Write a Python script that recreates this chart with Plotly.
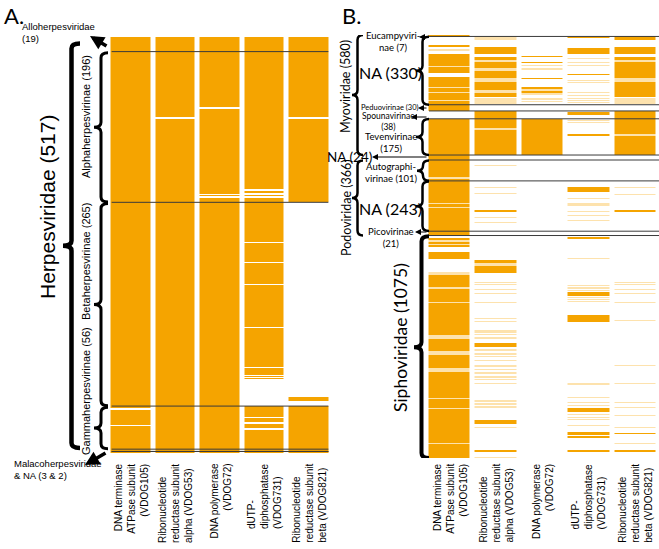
import numpy as np
import plotly.graph_objects as go

W, H = 659, 549

# ---------------- data ----------------
vdog_labels = [
    "DNA terminase<br>ATPase subunit<br>(VDOG105)",
    "Ribonucleotide<br>reductase subunit<br>alpha (VDOG53)",
    "DNA polymerase<br>(VDOG72)",
    "dUTP-<br>diphosphatase<br>(VDOG731)",
    "Ribonucleotide<br>reductase subunit<br>beta (VDOG821)",
]
label_align = ["right", "left", "right", "left", "left"]

# Panel A: herpesvirus genomes (rows), groups in order
A_groups = ["Alloherpesviridae", "Alphaherpesvirinae", "Betaherpesvirinae",
            "Gammaherpesvirinae", "Malacoherpesviridae", "NA"]
A_sizes = [19, 196, 265, 56, 3, 2]
# presence intervals (genome row start, end) for each VDOG
A_vdog105 = [(0, 483), (485, 504), (506, 541)]
A_vdog53 = [(0, 104), (106, 541)]
A_vdog72 = [(0, 91), (93, 204), (206, 207), (209, 541)]
A_vdog731 = [(0, 198), (200, 203), (205, 207), (209, 266), (268, 292), (294, 321),
             (323, 377), (379, 429), (431, 439), (441, 442), (444, 445),
             (480, 494), (496, 501), (503, 509), (511, 541)]
A_vdog821 = [(0, 104), (106, 215), (468, 473), (480, 541)]

# Panel B: phage genomes; (start, end, level) level 3 = dense, 2 = mixed, 1 = sparse
B_groups = ["Eucampyvirinae", "NA", "Peduovirinae", "Spounavirinae", "Tevenvirinae",
            "NA", "Autographivirinae", "NA", "Picovirinae", "Siphoviridae"]
B_sizes = [7, 330, 30, 38, 175, 24, 101, 243, 21, 1075]
B_vdog105 = [(0, 10, 3), (48, 58, 3), (70, 76, 1), (92, 150, 3), (150, 155, 1), (155, 184, 3),
             (203, 250, 3), (250, 256, 1), (256, 276, 3), (276, 282, 1), (282, 312, 3),
             (312, 317, 1), (317, 367, 3),
             (405, 686, 3), (686, 694, 1), (694, 810, 3), (810, 818, 1), (818, 830, 3),
             (830, 838, 1), (838, 969, 3),
             (981, 990, 3), (990, 998, 1), (998, 1008, 3), (1008, 1016, 1), (1016, 1025, 2),
             (1049, 1083, 3),
             (1146, 1160, 1), (1160, 1220, 3), (1220, 1226, 1), (1226, 1288, 3), (1288, 1294, 1),
             (1294, 1426, 3),
             (1426, 1440, 2), (1440, 1452, 3), (1452, 1470, 1), (1470, 1490, 3), (1490, 1510, 2),
             (1510, 1525, 3), (1525, 1545, 1), (1545, 1570, 3), (1570, 1590, 2), (1590, 1610, 3),
             (1610, 1630, 1), (1630, 1650, 3), (1650, 1678, 2),
             (1678, 1755, 3), (1755, 1760, 1), (1760, 1800, 3), (1800, 1806, 1), (1806, 1871, 3),
             (1871, 1895, 2), (1895, 1970, 3), (1970, 1976, 1), (1976, 2045, 3)]
B_vdog53 = [(5, 24, 1), (58, 92, 3), (106, 120, 3), (120, 131, 1), (131, 160, 3), (160, 175, 1),
            (175, 210, 3), (210, 225, 1), (225, 265, 3), (265, 280, 1), (280, 300, 3), (305, 334, 1),
            (367, 450, 3), (450, 458, 1), (458, 580, 3),
            (627, 632, 1), (733, 738, 1), (762, 767, 1), (846, 856, 2), (878, 883, 1), (902, 907, 1),
            (1088, 1100, 3), (1100, 1115, 1), (1115, 1135, 2), (1135, 1151, 3),
            (1194, 1199, 1), (1204, 1209, 1), (1225, 1230, 1), (1245, 1250, 1), (1288, 1293, 1),
            (1366, 1371, 1), (1383, 1388, 1),
            (1426, 1440, 1), (1445, 1450, 1), (1458, 1470, 1), (1489, 1508, 2), (1515, 1525, 1),
            (1535, 1545, 1), (1552, 1557, 1), (1571, 1576, 1), (1596, 1606, 1), (1612, 1620, 1),
            (1628, 1640, 1), (1648, 1656, 1), (1663, 1668, 1), (1683, 1688, 1),
            (1765, 1775, 1), (1780, 1788, 1), (1795, 1803, 1), (1861, 1881, 2), (1893, 1898, 1),
            (2006, 2016, 2), (2038, 2043, 1)]
B_vdog72 = [(100, 106, 2), (129, 136, 2), (145, 152, 1), (158, 169, 1), (206, 211, 2),
            (251, 262, 2), (262, 270, 1), (270, 280, 2), (280, 290, 1), (305, 312, 1),
            (318, 324, 1), (405, 580, 3)]
B_vdog731 = [(8, 14, 2), (63, 92, 3), (109, 114, 1), (131, 137, 1), (144, 150, 1), (187, 193, 2),
             (218, 224, 1), (228, 233, 1), (274, 279, 1), (290, 296, 1), (302, 308, 1),
             (315, 320, 1), (325, 330, 1),
             (372, 387, 2), (411, 416, 1), (420, 425, 1), (480, 487, 2),
             (735, 759, 3), (786, 791, 1), (812, 817, 1), (819, 824, 1), (849, 854, 1),
             (868, 873, 1), (892, 897, 1),
             (977, 985, 2), (1076, 1081, 1),
             (1209, 1214, 1), (1220, 1226, 1), (1232, 1238, 1), (1240, 1260, 2), (1265, 1270, 1),
             (1276, 1282, 1), (1286, 1291, 1),
             (1354, 1366, 2), (1366, 1372, 3), (1372, 1388, 2),
             (1683, 1692, 1), (1750, 1755, 1), (1774, 1779, 1), (1786, 1792, 1), (1803, 1823, 2),
             (1830, 1836, 1), (1845, 1850, 1), (1856, 1861, 1), (1886, 1891, 1), (1919, 1926, 2),
             (1928, 1935, 3), (1937, 1948, 2), (2006, 2016, 2)]
B_vdog821 = [(5, 24, 2), (58, 92, 3), (106, 122, 3), (122, 131, 1), (131, 160, 3), (160, 172, 2),
             (172, 210, 3), (210, 225, 1), (225, 262, 3), (262, 280, 2), (280, 300, 3), (305, 334, 1),
             (367, 480, 3), (480, 487, 1), (487, 580, 3),
             (733, 738, 1), (767, 772, 1), (846, 856, 2),
             (1194, 1199, 1), (1204, 1209, 1), (1225, 1230, 1), (1245, 1250, 1), (1288, 1293, 1),
             (1376, 1381, 1), (1594, 1599, 1), (1681, 1686, 1), (1772, 1777, 1), (1797, 1802, 1),
             (1835, 1840, 1), (1893, 1898, 1), (1922, 1927, 2), (1971, 1976, 1), (2006, 2016, 2)]

# ---------------- matrices ----------------
A_N = sum(A_sizes)
B_N = sum(B_sizes)
zA = np.zeros((A_N, 5))
for j, segs in enumerate([A_vdog105, A_vdog53, A_vdog72, A_vdog731, A_vdog821]):
    for a, b in segs:
        zA[a:b, j] = 3
zB = np.zeros((B_N, 5))
for j, segs in enumerate([B_vdog105, B_vdog53, B_vdog72, B_vdog731, B_vdog821]):
    for a, b, v in segs:
        zB[a:b, j] = v

colorscale = [[0, "#ffffff"], [0.125, "#ffffff"], [0.125, "#fde2ad"], [0.375, "#fde2ad"],
              [0.375, "#f9c35a"], [0.625, "#f9c35a"], [0.625, "#f5a400"], [1, "#f5a400"]]

fig = go.Figure()
fig.add_trace(go.Heatmap(z=zA, x=list(range(5)), y=list(range(A_N)), colorscale=colorscale,
                         zmin=0, zmax=3, showscale=False, xgap=5, xaxis="x", yaxis="y",
                         hoverinfo="skip"))
fig.add_trace(go.Heatmap(z=zB, x=list(range(5)), y=list(range(B_N)), colorscale=colorscale,
                         zmin=0, zmax=3, showscale=False, xgap=5, xaxis="x2", yaxis="y2",
                         hoverinfo="skip"))

ax_common = dict(showgrid=False, zeroline=False, showticklabels=False, showline=False, ticks="")
fig.update_layout(
    width=W, height=H, margin=dict(l=0, r=0, t=0, b=0),
    paper_bgcolor="white", plot_bgcolor="rgba(0,0,0,0)", showlegend=False,
    xaxis=dict(domain=[108.5 / W, 331.5 / W], range=[-0.5, 4.5], **ax_common),
    yaxis=dict(domain=[1 - 453 / H, 1 - 37 / H], range=[A_N - 0.5, -0.5], **ax_common),
    xaxis2=dict(domain=[426.5 / W, 658.5 / W], range=[-0.5, 4.5], anchor="y2", **ax_common),
    yaxis2=dict(domain=[1 - 458 / H, 1 - 35 / H], range=[B_N - 0.5, -0.5], anchor="x2", **ax_common),
)

shapes = []
ann = []
LINE = "#3a3a3a"

# group boundary lines
cumA = np.cumsum(A_sizes)
for b in list(cumA[:-1]) + [A_N - 2]:
    shapes.append(dict(type="line", xref="x", yref="y", x0=-0.43, x1=4.43, y0=b - 0.5, y1=b - 0.5,
                       line=dict(color=LINE, width=1)))
cumB = np.cumsum(B_sizes)
for b in list(cumB[:-1]):
    shapes.append(dict(type="line", xref="paper", yref="y2", x0=429 / W, x1=1.0, y0=b - 0.5, y1=b - 0.5,
                       line=dict(color=LINE, width=1)))


def brace(xe_px, xt_px, r0, r1, rpp, yref, width):
    xe, xt, xm = xe_px / W, xt_px / W, (xe_px + xt_px) / 2 / W
    d = min(5 * rpp, (r1 - r0) / 4)
    ym = (r0 + r1) / 2
    p = (f"M {xe},{r0} Q {xm},{r0} {xm},{r0 + d} L {xm},{ym - d} Q {xm},{ym} {xt},{ym} "
         f"Q {xm},{ym} {xm},{ym + d} L {xm},{r1 - d} Q {xm},{r1} {xe},{r1}")
    shapes.append(dict(type="path", xref="paper", yref=yref, path=p,
                       line=dict(color="black", width=width)))


rA = A_N / 416.0
rB = B_N / 423.0
startA = np.concatenate([[0], cumA])
startB = np.concatenate([[0], cumB])
# Panel A braces
brace(80, 63, 8, 534, rA, "y", 4.5)
brace(108, 94, startA[1] + 1, startA[2] - 1, rA, "y", 3)
brace(108, 94, startA[2] + 1, startA[3] - 1, rA, "y", 3)
brace(108, 94, startA[3] + 1, startA[4] - 1, rA, "y", 3)
# Panel B braces
brace(363, 352, 0, startB[5] - 1, rB, "y2", 2.5)
brace(429, 416, startB[1] + 1, startB[2] - 1, rB, "y2", 2.5)
brace(429, 416, startB[4] + 1, startB[5] - 1, rB, "y2", 2.5)
brace(363, 352, startB[6] + 2, startB[9] - 1, rB, "y2", 2.5)
brace(429, 417, startB[6] + 2, startB[7] - 1, rB, "y2", 2.5)
brace(429, 416, startB[7] + 2, startB[8] - 1, rB, "y2", 2.5)
brace(429, 414, startB[9] + 3, B_N, rB, "y2", 4)

fig.update_layout(shapes=shapes)

FA = "Liberation Sans, Arial, sans-serif"
FB = "Lato, Open Sans, sans-serif"


def txt(x, y, s, size, family, angle=0, xanchor="center", align="center"):
    ann.append(dict(x=x / W, y=1 - y / H, xref="paper", yref="paper", text=s, showarrow=False,
                    font=dict(size=size, family=family, color="black"), textangle=angle,
                    xanchor=xanchor, yanchor="middle", align=align))


def arrow(hx, hy, tx, ty, width, size):
    ann.append(dict(x=hx / W, y=1 - hy / H, xref="paper", yref="paper", text="", showarrow=True,
                    ax=tx - hx, ay=ty - hy, arrowhead=2, arrowsize=size, arrowwidth=width,
                    arrowcolor="black"))


# panel letters
txt(14, 16, "A.", 22, FB)
txt(351, 16, "B.", 22, FB)

# Panel A labels
txt(20, 33, "Alloherpesviridae<br>(19)", 9.5, FA, xanchor="left", align="left")
arrow(90, 36, 108, 47, 3.5, 0.8)
txt(12, 469, "Malacoherpesviridae<br>& NA (3 & 2)", 9.5, FA, xanchor="left", align="left")
arrow(85, 465, 107, 452, 3.5, 0.8)
txt(47, 207, "Herpesviridae (517)", 21, FA, angle=-90)
txt(86, 117, "Alphaherpesvirinae (196)", 11, FA, angle=-90)
txt(86, 262, "Betaherpesvirinae (265)", 11, FA, angle=-90)
txt(86, 391, "Gammaherpesvirinae (56)", 11, FA, angle=-90)

# Panel B labels
txt(346, 87, "Myoviridae (580)", 12.5, FB, angle=-90)
txt(346, 208, "Podoviridae (366)", 12.5, FB, angle=-90)
txt(400, 338, "Siphoviridae (1075)", 17.5, FB, angle=-90)
txt(393, 41, "Eucampyviri-<br>nae (7)", 9.5, FB)
arrow(419, 37, 428, 37, 1.2, 1)
txt(390, 72, "NA (330)", 16, FB)
txt(390, 107.5, "Peduovirinae (30)", 7.5, FB)
arrow(418, 108, 428, 108, 1.2, 1)
txt(388, 121.5, "Spounavirinae<br>(38)", 8.5, FB)
arrow(411, 117, 428, 117, 1.2, 1)
txt(391, 142.5, "Tevenvirinae<br>(175)", 9.5, FB)
txt(349, 157, "NA (24)", 13.5, FB)
arrow(372, 157, 428, 157, 1.2, 1)
txt(391, 172, "Autographi-<br>virinae (101)", 9.5, FB)
txt(390, 208, "NA (243)", 16, FB)
txt(391, 237, "Picovirinae<br>(21)", 9.5, FB)
arrow(415, 232, 428, 232, 1.2, 1)

# column labels
for xa in ["x", "x2"]:
    for j, lab in enumerate(vdog_labels):
        ann.append(dict(x=j, y=1 - 462 / H, xref=xa, yref="paper", text=lab, showarrow=False,
                        textangle=-90, xanchor="center", yanchor="top", align=label_align[j],
                        font=dict(size=10, family=FA, color="black")))

fig.update_layout(annotations=ann)
fig.write_html("out.html", config={"displayModeBar": False},
               post_script="document.body.style.margin='0';")
